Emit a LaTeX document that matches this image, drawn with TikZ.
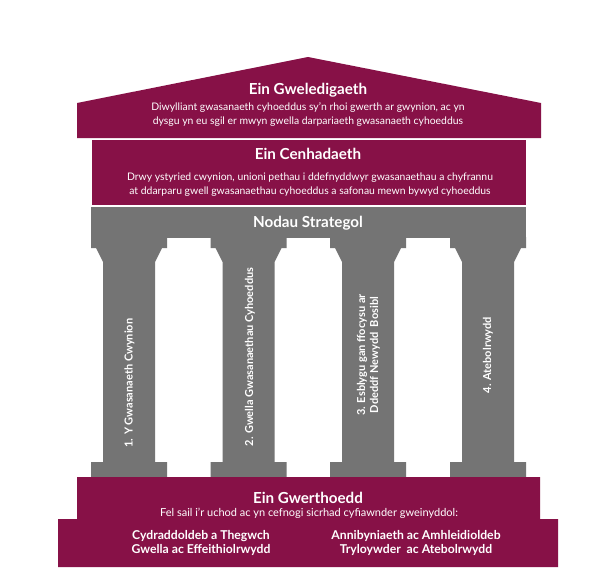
\documentclass[tikz,border=0pt]{standalone}
\usepackage{fontspec}
\setmainfont{Lato}
\definecolor{wine}{RGB}{135,17,71}
\definecolor{stone}{RGB}{116,116,116}
\begin{document}
\begin{tikzpicture}[x=1pt,y=-1pt,
  title/.style={text=white,font=\fontsize{15.2}{17}\selectfont\bfseries,inner sep=0pt},
  body/.style={text=white,font=\fontsize{10.4}{14.5}\selectfont,align=center,inner sep=0pt},
  coltext/.style={text=white,font=\fontsize{11}{13}\selectfont\bfseries,align=center,inner sep=0pt,rotate=90},
  valtext/.style={text=white,font=\fontsize{12.2}{14}\selectfont\bfseries,align=center,inner sep=0pt}]
\useasboundingbox (0,0) rectangle (601,567);
\fill[white] (0,0) rectangle (601,567);
% roof
\fill[wine] (77,103) -- (308,57) -- (541,103) -- (541,138) -- (77,138) -- cycle;
% mission band
\fill[wine] (92,140) rectangle (526,205);
% architrave
\fill[stone] (91,206.5) rectangle (526,237.5);
% columns
\foreach \c in {129,248.5,368,488}{
  \fill[stone] (\c-38,237) -- (\c+38,237) -- (\c+38,248) -- (\c+33,248) -- (\c+26,262)
    -- (\c+26,462) -- (\c+38,462) -- (\c+38,477) -- (\c-38,477) -- (\c-38,462)
    -- (\c-26,462) -- (\c-26,262) -- (\c-33,248) -- (\c-38,248) -- cycle;
}
% foundation
\fill[wine] (77,477) -- (540,477) -- (540,519) -- (558,519) -- (558,567) -- (58,567) -- (58,519) -- (77,519) -- cycle;
% texts
\node[title] (vt) at (308,90) {Ein Gweledigaeth};
\node[body] (vb) at (308,114.5) {Diwylliant gwasanaeth cyhoeddus sy’n rhoi gwerth ar gwynion, ac yn\\dysgu yn eu sgil er mwyn gwella darpariaeth gwasanaeth cyhoeddus};
\node[title] (mt) at (308,154) {Ein Cenhadaeth};
\node[body] (mb) at (310,184.5) {Drwy ystyried cwynion, unioni pethau i ddefnyddwyr gwasanaethau a chyfrannu\\at ddarparu gwell gwasanaethau cyhoeddus a safonau mewn bywyd cyhoeddus};
\node[title] (st) at (308,223) {Nodau Strategol};
\node[coltext] (c1) at (129.5,383) {1. Y Gwasanaeth Cwynion};
\node[coltext] (c2) at (250,357) {2. Gwella Gwasanaethau Cyhoeddus};
\node[coltext] (c3) at (368.5,355) {3. Esblygu gan ffocysu ar\\Ddeddf Newydd\ \ Bosibl};
\node[coltext] (c4) at (488,355) {4. Atebolrwydd};
\node[title] (gt) at (308,498) {Ein Gwerthoedd};
\node[body,font=\fontsize{11}{14}\selectfont] (gb) at (309,513) {Fel sail i’r uchod ac yn cefnogi sicrhad cyfiawnder gweinyddol:};
\node[valtext] (g1) at (201,543) {Cydraddoldeb a Thegwch\\Gwella ac Effeithiolrwydd};
\node[valtext] (g2) at (416,543) {Annibyniaeth ac Amhleidioldeb\\Tryloywder\ \ ac Atebolrwydd};
\end{tikzpicture}
\end{document}
